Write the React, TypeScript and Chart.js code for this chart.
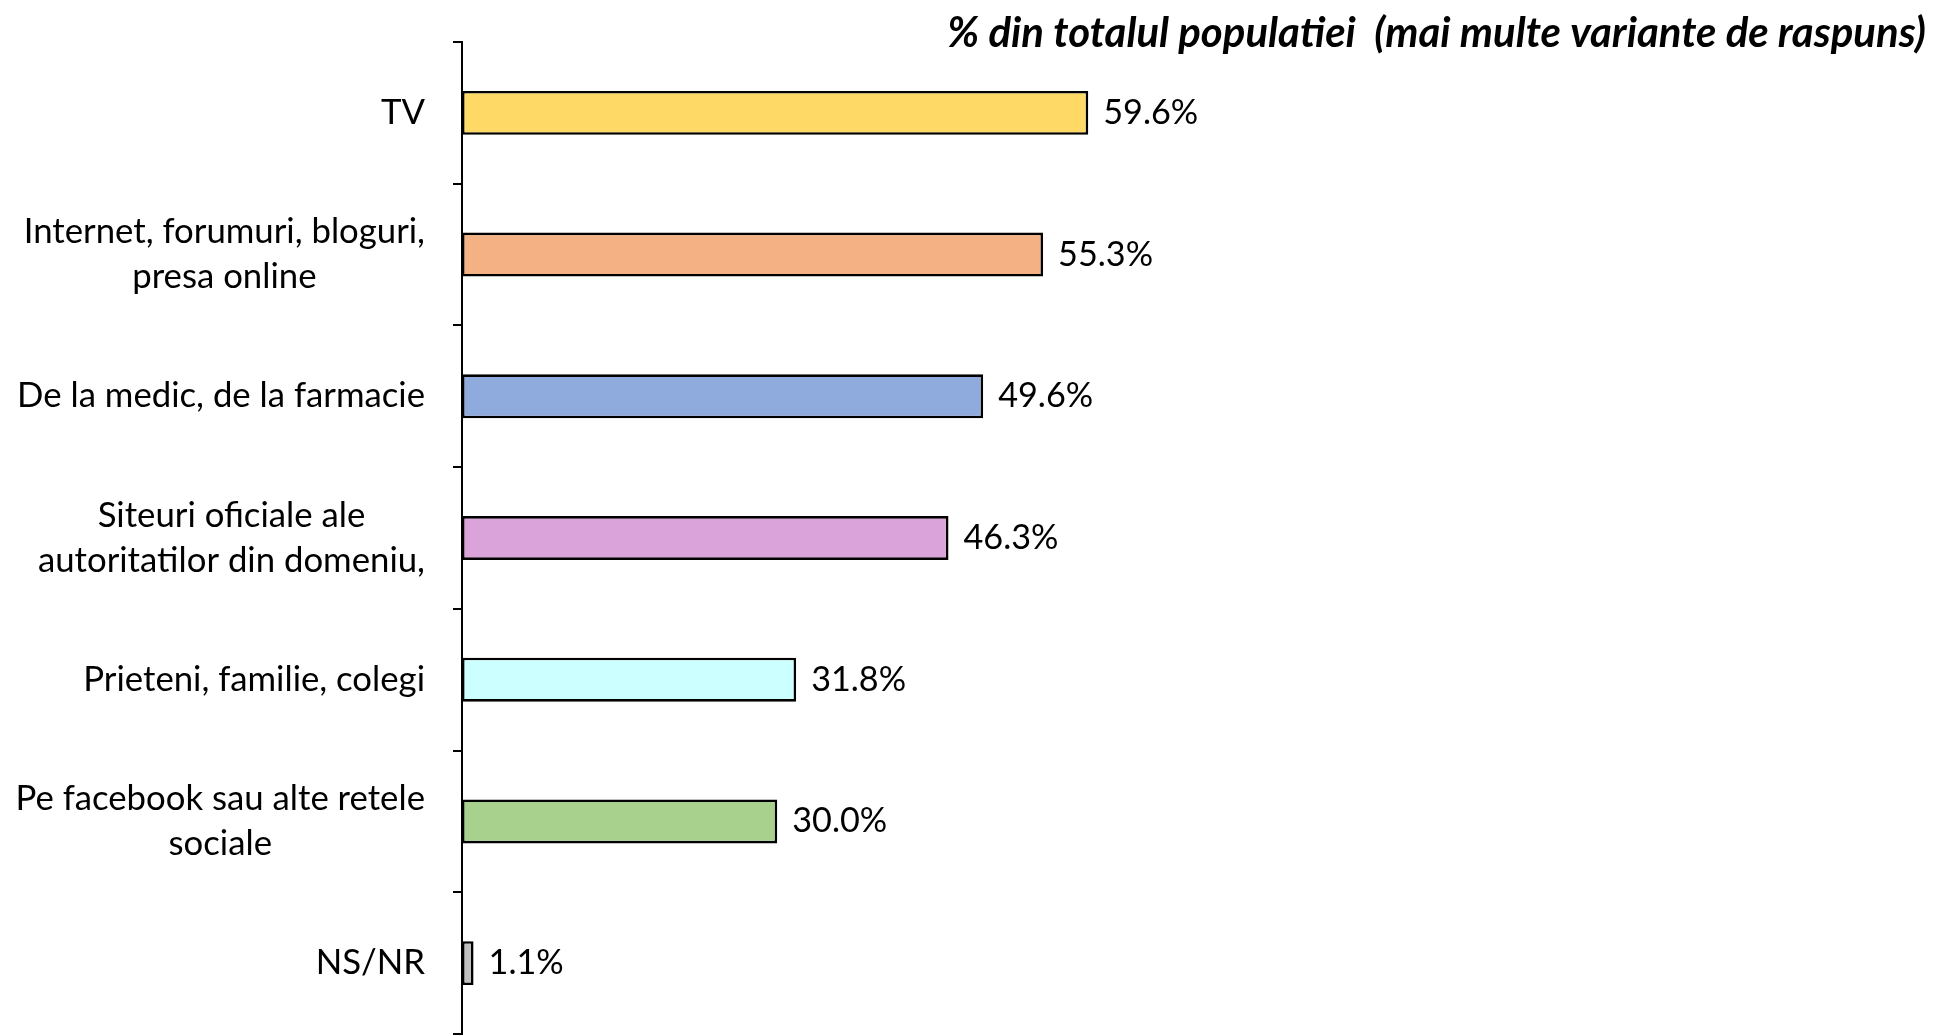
import { useEffect, useRef } from "react";
import { Chart, registerables } from "chart.js";

Chart.register(...registerables);

const categories: string[][] = [
  ["TV"],
  ["Internet, forumuri, bloguri,", "presa online"],
  ["De la medic, de la farmacie"],
  ["Siteuri oficiale ale", "autoritatilor din domeniu,"],
  ["Prieteni, familie, colegi"],
  ["Pe facebook sau alte retele", "sociale"],
  ["NS/NR"],
];

const values: number[] = [59.6, 55.3, 49.6, 46.3, 31.8, 30.0, 1.1];

const barColors: string[] = [
  "#FFD966",
  "#F4B183",
  "#8FAADC",
  "#DAA3DA",
  "#CCFFFF",
  "#A9D18E",
  "#C0C0C0",
];

const valueLabels: string[] = values.map((v) => v.toFixed(1) + "%");

const titleText = "% din totalul populatiei  (mai multe variante de raspuns)";

const FONT = "Lato, 'Open Sans', sans-serif";

function fitSize(
  ctx: CanvasRenderingContext2D,
  text: string,
  target: number,
  prefix: string
): number {
  ctx.font = `${prefix} 100px ${FONT}`;
  const w = ctx.measureText(text).width;
  return (100 * target) / w;
}

const textPlugin = {
  id: "textPlugin",
  afterDraw(chart: any) {
    const ctx: CanvasRenderingContext2D = chart.ctx;
    const yScale = chart.scales.y;
    ctx.save();
    ctx.fillStyle = "#000";

    // Category labels
    const labelSize = fitSize(ctx, "De la medic, de la farmacie", 408, "normal");
    ctx.font = `normal ${labelSize}px ${FONT}`;
    ctx.textBaseline = "middle";
    ctx.textAlign = "center";
    const rightEdge = 425;
    const lineH = 45;
    categories.forEach((lines, i) => {
      const cy = yScale.getPixelForValue(i);
      const maxW = Math.max(...lines.map((l) => ctx.measureText(l).width));
      const cx = rightEdge - maxW / 2;
      lines.forEach((line, j) => {
        const y = cy + (j - (lines.length - 1) / 2) * lineH;
        ctx.fillText(line, cx, y);
      });
    });

    // Value labels
    const valSize = fitSize(ctx, "59.6%", 95, "normal");
    ctx.font = `normal ${valSize}px ${FONT}`;
    ctx.textAlign = "left";
    const meta = chart.getDatasetMeta(0);
    meta.data.forEach((el: any, i: number) => {
      ctx.fillText(valueLabels[i], el.x + 15, el.y);
    });

    // Title
    const titleSize = fitSize(ctx, titleText, 979, "italic bold");
    ctx.font = `italic bold ${titleSize}px ${FONT}`;
    ctx.textAlign = "right";
    ctx.textBaseline = "alphabetic";
    ctx.fillText(titleText, 1926, 47);

    ctx.restore();
  },
};

export default function App() {
  const canvasRef = useRef<HTMLCanvasElement | null>(null);

  useEffect(() => {
    document.body.style.margin = "0";
    const canvas = canvasRef.current;
    if (!canvas) return;
    const chart = new Chart(canvas, {
      type: "bar",
      data: {
        labels: categories.map((c) => c.join(" ")),
        datasets: [
          {
            data: values,
            backgroundColor: barColors,
            borderColor: "#000000",
            borderWidth: 2.6,
            borderSkipped: false,
            categoryPercentage: 1,
            barPercentage: 0.31,
          },
        ],
      },
      options: {
        indexAxis: "y",
        animation: false,
        responsive: false,
        maintainAspectRatio: false,
        layout: { padding: { top: 42, bottom: 2, left: 0, right: 105 } },
        plugins: {
          legend: { display: false },
          tooltip: { enabled: false },
          title: { display: false },
        },
        scales: {
          x: {
            display: false,
            min: 0,
            max: 130,
          },
          y: {
            type: "category",
            grid: {
              drawOnChartArea: false,
              drawTicks: true,
              tickLength: 9,
              color: "#000000",
              lineWidth: 2,
              offset: true,
            },
            border: { display: true, color: "#000000", width: 2 },
            ticks: { display: false },
            afterFit: (s: any) => {
              s.width = 462;
            },
          },
        },
      },
      plugins: [textPlugin],
    });
    return () => chart.destroy();
  }, []);

  return (
    <div style={{ width: 1933, height: 1036, background: "#fff" }}>
      <canvas
        ref={canvasRef}
        width={1933}
        height={1036}
        style={{ display: "block", width: 1933, height: 1036 }}
      />
    </div>
  );
}
